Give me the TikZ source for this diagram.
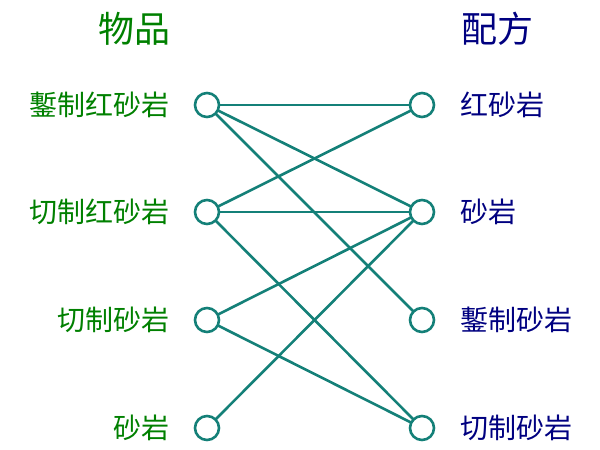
\documentclass[tikz,border=0pt]{standalone}
\usepackage{fontspec}
\newfontfamily\cjk{Noto Sans CJK SC}
\definecolor{itemgreen}{RGB}{0,128,0}
\definecolor{recipeblue}{RGB}{0,0,128}
\definecolor{edgeteal}{RGB}{20,128,120}
\begin{document}
\begin{tikzpicture}[x=1pt,y=-1pt,
  port/.style={circle,draw=edgeteal,line width=2.6pt,minimum size=24pt,inner sep=0pt,fill=white},
  ltext/.style={anchor=east,text=itemgreen,font=\cjk\fontsize{28}{32}\selectfont,inner sep=0pt},
  rtext/.style={anchor=west,text=recipeblue,font=\cjk\fontsize{28}{32}\selectfont,inner sep=0pt},
  title/.style={font=\cjk\fontsize{36}{40}\selectfont,inner sep=0pt},
  edge/.style={draw=edgeteal,line width=2.6pt}]
\useasboundingbox (0,0) rectangle (600,450);
\node[title,text=itemgreen] (t1) at (134,29) {物品};
\node[title,text=recipeblue] (t2) at (497,29) {配方};
\node[ltext] (l1t) at (170,105) {鏨制红砂岩};
\node[ltext] (l2t) at (170,212) {切制红砂岩};
\node[ltext] (l3t) at (170,320) {切制砂岩};
\node[ltext] (l4t) at (170,428) {砂岩};
\node[rtext] (r1t) at (460,105) {红砂岩};
\node[rtext] (r2t) at (460,212) {砂岩};
\node[rtext] (r3t) at (460,320) {鏨制砂岩};
\node[rtext] (r4t) at (460,428) {切制砂岩};
\coordinate (a1) at (207,105);
\coordinate (a2) at (207,212);
\coordinate (a3) at (207,320);
\coordinate (a4) at (207,428);
\coordinate (b1) at (422,105);
\coordinate (b2) at (422,212);
\coordinate (b3) at (422,320);
\coordinate (b4) at (422,428);
\draw[edge] (a1) -- (b1);
\draw[edge] (a1) -- (b2);
\draw[edge] (a1) -- (b3);
\draw[edge] (a2) -- (b1);
\draw[edge] (a2) -- (b2);
\draw[edge] (a2) -- (b4);
\draw[edge] (a3) -- (b2);
\draw[edge] (a3) -- (b4);
\draw[edge] (a4) -- (b2);
\foreach \n in {a1,a2,a3,a4,b1,b2,b3,b4} \node[port] (p\n) at (\n) {};
\end{tikzpicture}
\end{document}
